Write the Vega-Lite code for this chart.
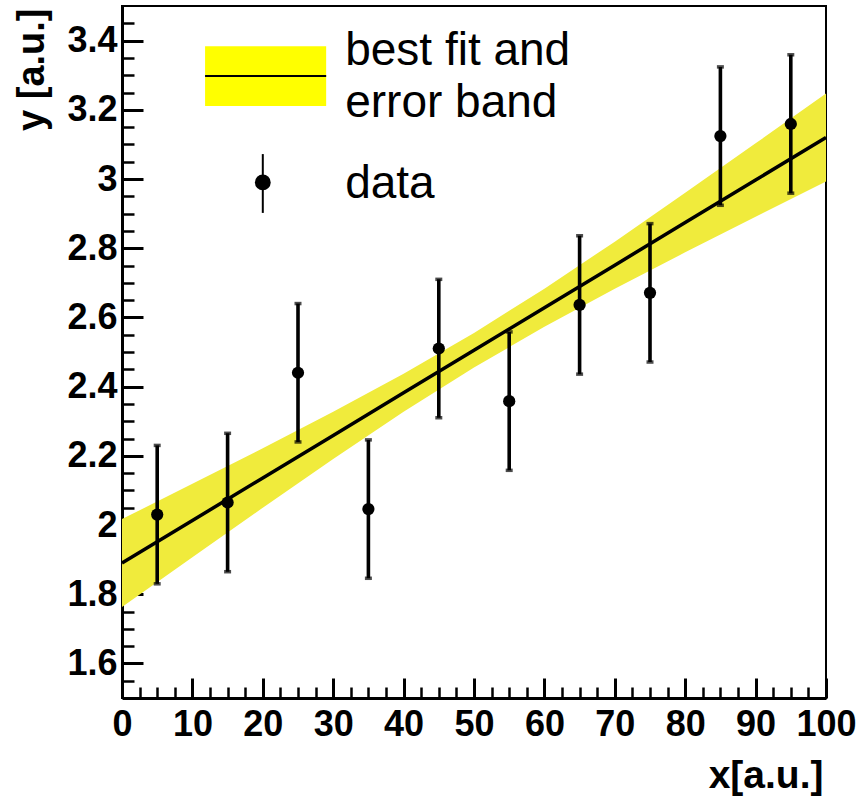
{
  "$schema": "https://vega.github.io/schema/vega-lite/v6.json",
  "width": 704,
  "height": 692,
  "autosize": {"type": "none"},
  "padding": {"left": 122, "top": 6, "right": 32, "bottom": 101},
  "background": "white",
  "config": {"view": {"stroke": "black", "strokeWidth": 2}, "font": "Liberation Sans"},
  "datasets": {
    "fit": [
      {"x": 0, "fit": 1.890, "lo": 1.763, "hi": 2.017},
      {"x": 10, "fit": 2.013, "lo": 1.907, "hi": 2.119},
      {"x": 20, "fit": 2.136, "lo": 2.050, "hi": 2.222},
      {"x": 30, "fit": 2.259, "lo": 2.191, "hi": 2.327},
      {"x": 40, "fit": 2.382, "lo": 2.327, "hi": 2.437},
      {"x": 50, "fit": 2.505, "lo": 2.455, "hi": 2.555},
      {"x": 60, "fit": 2.628, "lo": 2.573, "hi": 2.683},
      {"x": 70, "fit": 2.751, "lo": 2.683, "hi": 2.819},
      {"x": 80, "fit": 2.874, "lo": 2.788, "hi": 2.960},
      {"x": 90, "fit": 2.997, "lo": 2.891, "hi": 3.103},
      {"x": 100, "fit": 3.120, "lo": 2.993, "hi": 3.247}
    ],
    "points": [
      {"x": 5, "y": 2.03, "lo": 1.83, "hi": 2.23},
      {"x": 15, "y": 2.065, "lo": 1.865, "hi": 2.265},
      {"x": 25, "y": 2.44, "lo": 2.24, "hi": 2.64},
      {"x": 35, "y": 2.046, "lo": 1.846, "hi": 2.246},
      {"x": 45, "y": 2.51, "lo": 2.31, "hi": 2.71},
      {"x": 55, "y": 2.358, "lo": 2.158, "hi": 2.558},
      {"x": 65, "y": 2.636, "lo": 2.436, "hi": 2.836},
      {"x": 75, "y": 2.671, "lo": 2.471, "hi": 2.871},
      {"x": 85, "y": 3.124, "lo": 2.924, "hi": 3.324},
      {"x": 95, "y": 3.159, "lo": 2.959, "hi": 3.359}
    ]
  },
  "resolve": {"axis": {"x": "independent", "y": "independent"}},
  "layer": [
    {
      "data": {"name": "fit"},
      "mark": {"type": "area", "color": "#F0EB3C", "opacity": 1},
      "encoding": {
        "x": {
          "field": "x", "type": "quantitative",
          "scale": {"domain": [0, 100], "nice": false, "zero": false},
          "axis": {
            "orient": "bottom",
            "values": [0, 10, 20, 30, 40, 50, 60, 70, 80, 90, 100],
            "format": "d",
            "grid": false,
            "domainColor": "black", "domainWidth": 3,
            "tickColor": "black", "tickWidth": 3, "tickSize": -20,
            "labelFont": "Liberation Sans", "labelFontWeight": "bold", "labelFontSize": 36,
            "labelColor": "black", "labelPadding": 57, "labelBaseline": "alphabetic",
            "labelFlush": false, "labelOverlap": false, "labelBound": false,
            "title": "x[a.u.]",
            "titleFont": "Liberation Sans", "titleFontWeight": "bold", "titleFontSize": 39,
            "titleColor": "black", "titleAlign": "right", "titleBaseline": "alphabetic",
            "titleX": 701, "titleY": 89
          }
        },
        "y": {
          "field": "lo", "type": "quantitative",
          "scale": {"domain": [1.5, 3.5], "nice": false, "zero": false},
          "axis": {
            "orient": "left",
            "values": [1.6, 1.8, 2, 2.2, 2.4, 2.6, 2.8, 3, 3.2, 3.4],
            "format": "~g",
            "grid": false,
            "domainColor": "black", "domainWidth": 3,
            "tickColor": "black", "tickWidth": 3, "tickSize": -21,
            "labelFont": "Liberation Sans", "labelFontWeight": "bold", "labelFontSize": 36,
            "labelColor": "black", "labelPadding": 26, "labelBaseline": "middle",
            "labelFlush": false, "labelOverlap": false, "labelBound": false,
            "title": "y [a.u.]",
            "titleFont": "Liberation Sans", "titleFontWeight": "bold", "titleFontSize": 38,
            "titleColor": "black", "titleAngle": -90, "titleAlign": "right", "titleBaseline": "alphabetic",
            "titleX": -79, "titleY": 2
          }
        },
        "y2": {"field": "hi"}
      }
    },
    {
      "data": {"name": "fit"},
      "mark": {"type": "line", "color": "black", "strokeWidth": 3.5},
      "encoding": {
        "x": {
          "field": "x", "type": "quantitative",
          "scale": {"domain": [0, 100], "nice": false, "zero": false},
          "axis": {
            "orient": "bottom",
            "values": [2.5, 5, 7.5, 12.5, 15, 17.5, 22.5, 25, 27.5, 32.5, 35, 37.5, 42.5, 45, 47.5, 52.5, 55, 57.5, 62.5, 65, 67.5, 72.5, 75, 77.5, 82.5, 85, 87.5, 92.5, 95, 97.5],
            "grid": false, "domain": false, "labels": false, "title": null,
            "tickColor": "black", "tickWidth": 2.5, "tickSize": -11
          }
        },
        "y": {
          "field": "fit", "type": "quantitative",
          "scale": {"domain": [1.5, 3.5], "nice": false, "zero": false},
          "axis": {
            "orient": "left",
            "values": [1.55, 1.65, 1.7, 1.75, 1.85, 1.9, 1.95, 2.05, 2.1, 2.15, 2.25, 2.3, 2.35, 2.45, 2.5, 2.55, 2.65, 2.7, 2.75, 2.85, 2.9, 2.95, 3.05, 3.1, 3.15, 3.25, 3.3, 3.35, 3.45],
            "grid": false, "domain": false, "labels": false, "title": null,
            "tickColor": "black", "tickWidth": 2.5, "tickSize": -12
          }
        }
      }
    },
    {
      "data": {"name": "points"},
      "mark": {"type": "rule", "color": "black", "strokeWidth": 3.6},
      "encoding": {
        "x": {"field": "x", "type": "quantitative", "axis": null, "scale": {"domain": [0, 100], "nice": false, "zero": false}},
        "y": {"field": "lo", "type": "quantitative", "axis": null, "scale": {"domain": [1.5, 3.5], "nice": false, "zero": false}},
        "y2": {"field": "hi"}
      }
    },
    {
      "data": {"name": "points"},
      "mark": {"type": "tick", "orient": "horizontal", "color": "black", "size": 7, "thickness": 3.5},
      "encoding": {
        "x": {"field": "x", "type": "quantitative", "axis": null, "scale": {"domain": [0, 100], "nice": false, "zero": false}},
        "y": {"field": "lo", "type": "quantitative", "axis": null, "scale": {"domain": [1.5, 3.5], "nice": false, "zero": false}}
      }
    },
    {
      "data": {"name": "points"},
      "mark": {"type": "tick", "orient": "horizontal", "color": "black", "size": 7, "thickness": 3.5},
      "encoding": {
        "x": {"field": "x", "type": "quantitative", "axis": null, "scale": {"domain": [0, 100], "nice": false, "zero": false}},
        "y": {"field": "hi", "type": "quantitative", "axis": null, "scale": {"domain": [1.5, 3.5], "nice": false, "zero": false}}
      }
    },
    {
      "data": {"name": "points"},
      "mark": {"type": "point", "filled": true, "shape": "circle", "color": "black", "opacity": 1, "size": 150},
      "encoding": {
        "x": {"field": "x", "type": "quantitative", "axis": null, "scale": {"domain": [0, 100], "nice": false, "zero": false}},
        "y": {"field": "y", "type": "quantitative", "axis": null, "scale": {"domain": [1.5, 3.5], "nice": false, "zero": false}}
      }
    },
    {
      "data": {"values": [{"item": "best fit and error band"}]},
      "mark": {"type": "rect", "color": "#FFFF00"},
      "encoding": {
        "x": {"datum": 11.8, "type": "quantitative", "axis": null},
        "x2": {"datum": 29.0},
        "y": {"datum": 3.384, "type": "quantitative", "axis": null},
        "y2": {"datum": 3.211}
      }
    },
    {
      "data": {"values": [{"item": "best fit and error band"}]},
      "mark": {"type": "rule", "color": "black", "strokeWidth": 2},
      "encoding": {
        "x": {"datum": 11.8, "type": "quantitative", "axis": null},
        "x2": {"datum": 29.0},
        "y": {"datum": 3.298, "type": "quantitative", "axis": null}
      }
    },
    {
      "data": {"values": [{"item": "data"}]},
      "mark": {"type": "rule", "color": "black", "strokeWidth": 2},
      "encoding": {
        "x": {"datum": 20, "type": "quantitative", "axis": null},
        "y": {"datum": 3.072, "type": "quantitative", "axis": null},
        "y2": {"datum": 2.902}
      }
    },
    {
      "data": {"values": [{"item": "data"}]},
      "mark": {"type": "point", "filled": true, "shape": "circle", "color": "black", "opacity": 1, "size": 250},
      "encoding": {
        "x": {"datum": 20, "type": "quantitative", "axis": null},
        "y": {"datum": 2.99, "type": "quantitative", "axis": null}
      }
    },
    {
      "data": {"values": [{"label": ["best fit and", "error band"]}]},
      "mark": {"type": "text", "align": "left", "baseline": "alphabetic", "font": "Liberation Sans", "fontSize": 46, "lineHeight": 52, "color": "black"},
      "encoding": {
        "x": {"datum": 31.7, "type": "quantitative", "axis": null},
        "y": {"datum": 3.329, "type": "quantitative", "axis": null},
        "text": {"field": "label"}
      }
    },
    {
      "data": {"values": [{"label": "data"}]},
      "mark": {"type": "text", "align": "left", "baseline": "alphabetic", "font": "Liberation Sans", "fontSize": 46, "color": "black"},
      "encoding": {
        "x": {"datum": 31.7, "type": "quantitative", "axis": null},
        "y": {"datum": 2.945, "type": "quantitative", "axis": null},
        "text": {"field": "label"}
      }
    }
  ]
}
